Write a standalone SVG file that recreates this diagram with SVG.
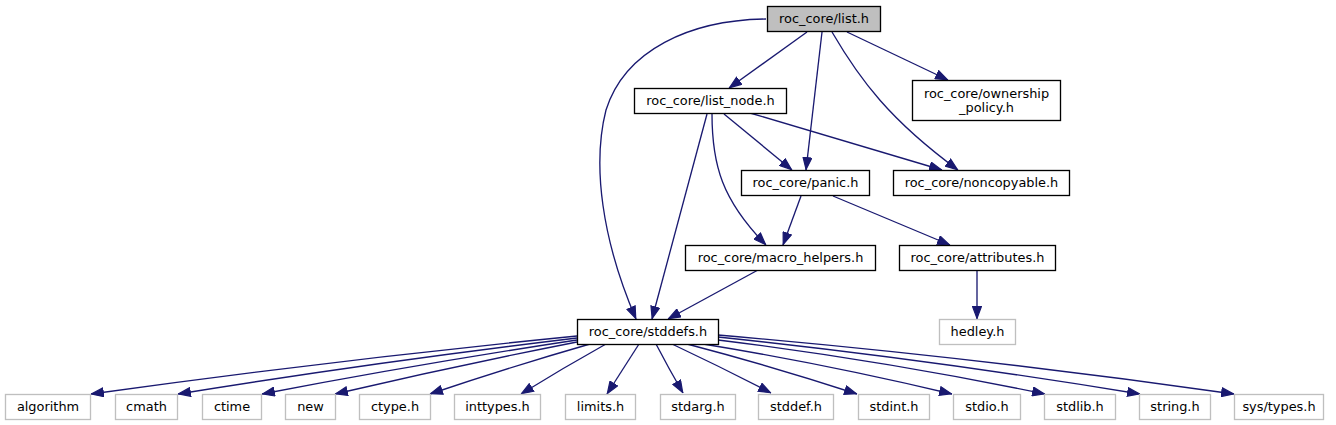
<svg xmlns="http://www.w3.org/2000/svg" width="1336" height="425" viewBox="0 0 1336 425">
<style>
.n rect{fill:#fff;stroke:#000;stroke-width:1.33}
.n.g rect{stroke:#bfbfbf}
.n.root rect{fill:#bfbfbf}
.n text{font-family:"DejaVu Sans",sans-serif;font-size:12.9px;text-anchor:middle;fill:#000}
#edges path{fill:none;stroke:#191970;stroke-width:1.33;marker-end:url(#ah)}
</style>
<defs>
<marker id="ah" viewBox="0 0 13 10" refX="13" refY="5" markerWidth="13" markerHeight="10" markerUnits="userSpaceOnUse" orient="auto">
<path d="M0.6,0.6 L12.4,5 L0.6,9.4 z" fill="#191970" stroke="#191970" stroke-width="1.2"/>
</marker>
</defs>
<rect width="1336" height="425" fill="#fff"/>
<g id="edges">
<path d="M766,19 C690,20 625,50 606,110 C592,165 602,240 636,319"/>
<path d="M807,32 L729,88"/>
<path d="M822,32 L806,170"/>
<path d="M832,32 C860,80 890,120 958,170"/>
<path d="M847,32 L948,80"/>
<path d="M707,114 L652,319"/>
<path d="M712,114 C712,165 722,200 766,245"/>
<path d="M724,114 L792,170"/>
<path d="M750,113 L942,170"/>
<path d="M801,196 L783,245"/>
<path d="M833,196 L950,245"/>
<path d="M758,270 L668,319"/>
<path d="M977,270 L977,319"/>
<path d="M577,336 Q334,360 91,394"/>
<path d="M577,338 Q376,362 178,394"/>
<path d="M577,340 Q418,364 262,394"/>
<path d="M577,342 Q455,366 335,394"/>
<path d="M590,344 Q510,367 430,394"/>
<path d="M606,344 Q563,368 521,394"/>
<path d="M639,344 Q623,369 607,394"/>
<path d="M656,344 Q669,369 683,393"/>
<path d="M672,344 Q721,367 771,393"/>
<path d="M687,344 Q771,366 857,394"/>
<path d="M703,344 Q826,364 952,394"/>
<path d="M718,340 Q880,360 1045,394"/>
<path d="M718,337 Q927,359 1140,394"/>
<path d="M718,335 Q974,357 1234,394"/>
</g>
<g id="list_h" class="n root"><rect x="767.5" y="6.5" width="113" height="25"/><text x="824" y="23">roc_core/list.h</text></g>
<g id="list_node_h" class="n"><rect x="634.5" y="88.5" width="152" height="25"/><text x="710.5" y="105">roc_core/list_node.h</text></g>
<g id="ownership_policy_h" class="n"><rect x="912.5" y="80.5" width="148" height="40"/><text x="986.5" y="98">roc_core/ownership</text><text x="986.5" y="111.5">_policy.h</text></g>
<g id="panic_h" class="n"><rect x="741.5" y="170.5" width="128" height="25"/><text x="805.5" y="187">roc_core/panic.h</text></g>
<g id="noncopyable_h" class="n"><rect x="893.5" y="170.5" width="176" height="25"/><text x="981.5" y="187">roc_core/noncopyable.h</text></g>
<g id="macro_helpers_h" class="n"><rect x="685.5" y="245.5" width="190" height="25"/><text x="780.5" y="262">roc_core/macro_helpers.h</text></g>
<g id="attributes_h" class="n"><rect x="899.5" y="245.5" width="156" height="25"/><text x="977.5" y="262">roc_core/attributes.h</text></g>
<g id="stddefs_h" class="n"><rect x="577.5" y="319.5" width="141" height="25"/><text x="648" y="336">roc_core/stddefs.h</text></g>
<g id="hedley_h" class="n g"><rect x="939.5" y="319.5" width="76" height="25"/><text x="977.5" y="336">hedley.h</text></g>
<g id="algorithm" class="n g"><rect x="5.5" y="394.5" width="85" height="25"/><text x="48" y="411">algorithm</text></g>
<g id="cmath" class="n g"><rect x="115.5" y="394.5" width="62" height="25"/><text x="146.5" y="411">cmath</text></g>
<g id="ctime" class="n g"><rect x="202.5" y="394.5" width="59" height="25"/><text x="232" y="411">ctime</text></g>
<g id="new" class="n g"><rect x="285.5" y="394.5" width="50" height="25"/><text x="310.5" y="411">new</text></g>
<g id="ctype_h" class="n g"><rect x="359.5" y="394.5" width="71" height="25"/><text x="395" y="411">ctype.h</text></g>
<g id="inttypes_h" class="n g"><rect x="454.5" y="394.5" width="86" height="25"/><text x="497.5" y="411">inttypes.h</text></g>
<g id="limits_h" class="n g"><rect x="565.5" y="394.5" width="70" height="25"/><text x="600.5" y="411">limits.h</text></g>
<g id="stdarg_h" class="n g"><rect x="660.5" y="394.5" width="75" height="25"/><text x="698" y="411">stdarg.h</text></g>
<g id="stddef_h" class="n g"><rect x="758.5" y="394.5" width="75" height="25"/><text x="796" y="411">stddef.h</text></g>
<g id="stdint_h" class="n g"><rect x="858.5" y="394.5" width="71" height="25"/><text x="894" y="411">stdint.h</text></g>
<g id="stdio_h" class="n g"><rect x="953.5" y="394.5" width="67" height="25"/><text x="987" y="411">stdio.h</text></g>
<g id="stdlib_h" class="n g"><rect x="1044.5" y="394.5" width="71" height="25"/><text x="1080" y="411">stdlib.h</text></g>
<g id="string_h" class="n g"><rect x="1139.5" y="394.5" width="71" height="25"/><text x="1175" y="411">string.h</text></g>
<g id="sys_types_h" class="n g"><rect x="1234.5" y="394.5" width="89" height="25"/><text x="1279" y="411">sys/types.h</text></g>
</svg>
